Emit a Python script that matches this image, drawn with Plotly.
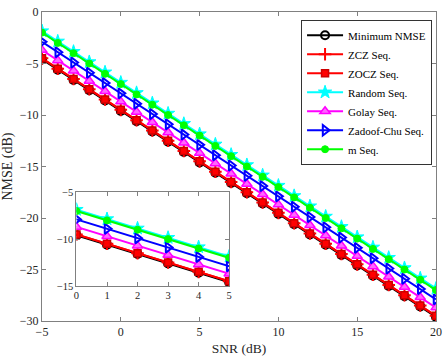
import plotly.graph_objects as go

snr = [-5, -4, -3, -2, -1, 0, 1, 2, 3, 4, 5, 6, 7, 8, 9, 10, 11, 12, 13, 14, 15, 16, 17, 18, 19, 20]
min_nmse = [-4.6, -5.6, -6.6, -7.6, -8.6, -9.6, -10.6, -11.6, -12.6, -13.6, -14.6, -15.6, -16.6,
            -17.6, -18.6, -19.6, -20.6, -21.6, -22.6, -23.6, -24.6, -25.6, -26.6, -27.6, -28.6, -29.6]
zcz = [-4.5, -5.5, -6.5, -7.5, -8.5, -9.5, -10.5, -11.5, -12.5, -13.5, -14.5, -15.5, -16.5,
       -17.5, -18.5, -19.5, -20.5, -21.5, -22.5, -23.5, -24.5, -25.5, -26.5, -27.5, -28.5, -29.5]
zocz = [-4.5, -5.5, -6.5, -7.5, -8.5, -9.5, -10.5, -11.5, -12.5, -13.5, -14.5, -15.5, -16.5,
        -17.5, -18.5, -19.5, -20.5, -21.5, -22.5, -23.5, -24.5, -25.5, -26.5, -27.5, -28.5, -29.5]
random_seq = [-1.85, -2.85, -3.85, -4.85, -5.85, -6.85, -7.85, -8.85, -9.85, -10.85, -11.85, -12.85, -13.85,
              -14.85, -15.85, -16.85, -17.85, -18.85, -19.85, -20.85, -21.85, -22.85, -23.85, -24.85, -25.85, -26.85]
golay = [-3.7, -4.7, -5.7, -6.7, -7.7, -8.7, -9.7, -10.7, -11.7, -12.7, -13.7, -14.7, -15.7,
         -16.7, -17.7, -18.7, -19.7, -20.7, -21.7, -22.7, -23.7, -24.7, -25.7, -26.7, -27.7, -28.7]
zadoff_chu = [-2.9, -3.9, -4.9, -5.9, -6.9, -7.9, -8.9, -9.9, -10.9, -11.9, -12.9, -13.9, -14.9,
              -15.9, -16.9, -17.9, -18.9, -19.9, -20.9, -21.9, -22.9, -23.9, -24.9, -25.9, -26.9, -27.9]
m_seq = [-2.0, -3.0, -4.0, -5.0, -6.0, -7.0, -8.0, -9.0, -10.0, -11.0, -12.0, -13.0, -14.0,
         -15.0, -16.0, -17.0, -18.0, -19.0, -20.0, -21.0, -22.0, -23.0, -24.0, -25.0, -26.0, -27.0]

series = [
    ("Minimum NMSE", min_nmse, "black", dict(symbol="circle-open", size=8, color="black", line=dict(width=2, color="black"))),
    ("ZCZ Seq.", zcz, "red", dict(symbol="cross-thin-open", size=9, color="red", line=dict(width=2, color="red"))),
    ("ZOCZ Seq.", zocz, "red", dict(symbol="square", size=7, color="red", line=dict(width=1.5, color="#cc0000"))),
    ("Random Seq.", random_seq, "cyan", dict(symbol="star", size=10, color="cyan", line=dict(width=1, color="cyan"))),
    ("Golay Seq.", golay, "magenta", dict(symbol="triangle-up", size=9, color="#ff66ff", line=dict(width=1.5, color="magenta"))),
    ("Zadoof-Chu Seq.", zadoff_chu, "blue", dict(symbol="triangle-right-open", size=9, color="blue", line=dict(width=2, color="blue"))),
    ("m Seq.", m_seq, "#00ff00", dict(symbol="circle", size=7, color="#00ff00", line=dict(width=1, color="#00ff00"))),
]

fig = go.Figure()
for name, y, col, mk in series:
    fig.add_trace(go.Scatter(x=snr, y=y, name=name, mode="lines+markers",
                             line=dict(color=col, width=2), marker=mk))
for name, y, col, mk in series:
    fig.add_trace(go.Scatter(x=snr, y=y, name=name, mode="lines+markers", showlegend=False,
                             line=dict(color=col, width=2), marker=mk, xaxis="x2", yaxis="y2"))

font = "Liberation Serif"
axcol = "#808080"
common = dict(showline=True, linecolor=axcol, linewidth=1, mirror="ticks", ticks="inside",
              ticklen=4, tickcolor=axcol, showgrid=False, zeroline=False,
              tickfont=dict(family=font, size=12, color="#262626"))
inset_tf = dict(family=font, size=10.5, color="#262626")

fig.update_layout(
    width=447, height=359,
    margin=dict(l=40, r=7, t=5, b=37),
    paper_bgcolor="white", plot_bgcolor="white",
    font=dict(family=font, color="#262626"),
    xaxis=dict(range=[-5, 20], tickvals=[-5, 0, 5, 10, 15, 20], domain=[0, 1],
               title=dict(text="SNR (dB)", font=dict(family=font, size=13.5), standoff=5), **common),
    yaxis=dict(range=[-30, 0], tickvals=[-30, -25, -20, -15, -10, -5, 0], domain=[0, 1],
               title=dict(text="NMSE (dB)", font=dict(family=font, size=14), standoff=5), **common),
    xaxis2=dict(range=[0, 5], tickvals=[0, 1, 2, 3, 4, 5], domain=[0.0875, 0.475], anchor="y2",
                **{**common, "tickfont": inset_tf}),
    yaxis2=dict(range=[-15, -5], tickvals=[-15, -10, -5], domain=[0.1136, 0.4164], anchor="x2",
                **{**common, "tickfont": inset_tf}),
    legend=dict(x=0.6575, y=0.975, xanchor="left", yanchor="top",
                bgcolor="white", bordercolor="#333333", borderwidth=1,
                font=dict(family=font, size=11, color="black"),
                itemwidth=36, tracegroupgap=0),
    showlegend=True,
)

fig.write_html("out.html", post_script="document.body.style.margin='0px';",
               config={"displayModeBar": False})
